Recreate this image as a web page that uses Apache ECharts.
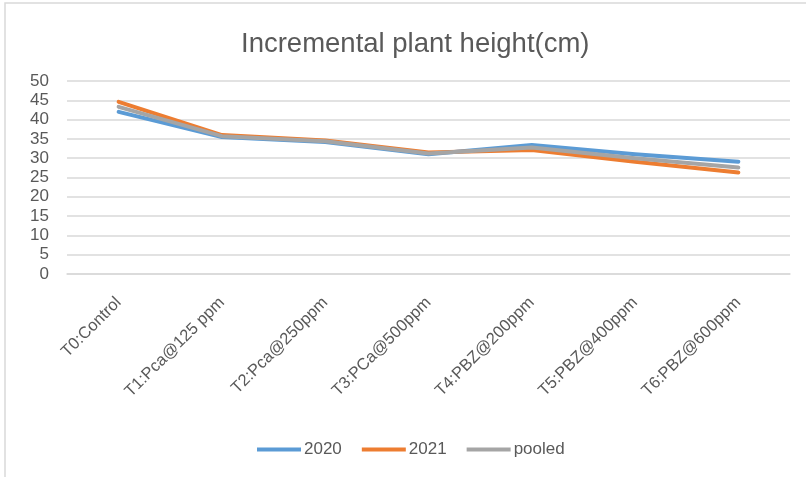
<!DOCTYPE html>
<html>
<head>
<meta charset="utf-8">
<script src="https://cdn.jsdelivr.net/npm/echarts@6/dist/echarts.min.js"></script>
<style>
  html, body { margin: 0; padding: 0; background: #fff; }
  #main { width: 806px; height: 477px; }
</style>
</head>
<body>
<div id="main"></div>
<script>
// data
const treatments = ['T0:Control', 'T1:Pca@125 ppm', 'T2:Pca@250ppm', 'T3:PCa@500ppm',
  'T4:PBZ@200ppm', 'T5:PBZ@400ppm', 'T6:PBZ@600ppm'];
const height2020 = [42.0, 35.5, 34.2, 31.0, 33.4, 31.0, 29.1];
const height2021 = [44.6, 36.0, 34.6, 31.5, 32.1, 29.1, 26.3];
const heightPooled = [43.3, 35.7, 34.4, 31.2, 32.8, 30.0, 27.6];

const font = "'Liberation Sans', sans-serif";
const textColor = '#595959';

const chartDom = document.getElementById('main');
const myChart = echarts.init(chartDom);

function lineSeries(name, data, color) {
  return {
    name: name,
    type: 'line',
    data: data,
    symbol: 'none',
    lineStyle: {width: 4, color: color, cap: 'round', join: 'round'},
    itemStyle: {color: color}
  }
}

const option = {
  animation: false,
  textStyle: {fontFamily: font},
  title: {
    text: 'Incremental plant height(cm)',
    left: 236,
    top: 25,
    textStyle: {fontFamily: font, fontSize: 27.5, fontWeight: 'normal', color: textColor}
  },
  graphic: [{
    type: 'rect',
    shape: {x: 5, y: 3, width: 820, height: 500},
    style: {fill: 'none', stroke: '#d9d9d9', lineWidth: 1.5},
    silent: true
  }],
  legend: {
    bottom: 14,
    left: 252,
    itemWidth: 44,
    itemHeight: 4,
    itemGap: 20,
    icon: 'rect',
    textStyle: {fontFamily: font, fontSize: 17, color: textColor, padding: [0, 0, 0, -2]},
    data: ['2020', '2021', 'pooled']
  },
  grid: {left: 67, right: 16, top: 81, bottom: 203},
  xAxis: {
    type: 'category',
    data: treatments,
    boundaryGap: true,
    axisLine: {show: true, lineStyle: {color: '#d9d9d9', width: 1.5}},
    axisTick: {show: false},
    axisLabel: {
      rotate: 45,
      margin: 26,
      interval: 0,
      fontFamily: font,
      fontSize: 16.5,
      color: textColor
    }
  },
  yAxis: {
    type: 'value',
    min: 0,
    max: 50,
    interval: 5,
    axisLine: {show: false},
    axisTick: {show: false},
    splitLine: {lineStyle: {color: '#d9d9d9', width: 1.5}},
    axisLabel: {fontFamily: font, fontSize: 17, color: textColor, margin: 18}
  },
  series: [
    lineSeries('2020', height2020, '#5b9bd5'),
    lineSeries('2021', height2021, '#ed7d31'),
    lineSeries('pooled', heightPooled, '#a5a5a5')
  ]
};

option && myChart.setOption(option);
</script>
</body>
</html>
